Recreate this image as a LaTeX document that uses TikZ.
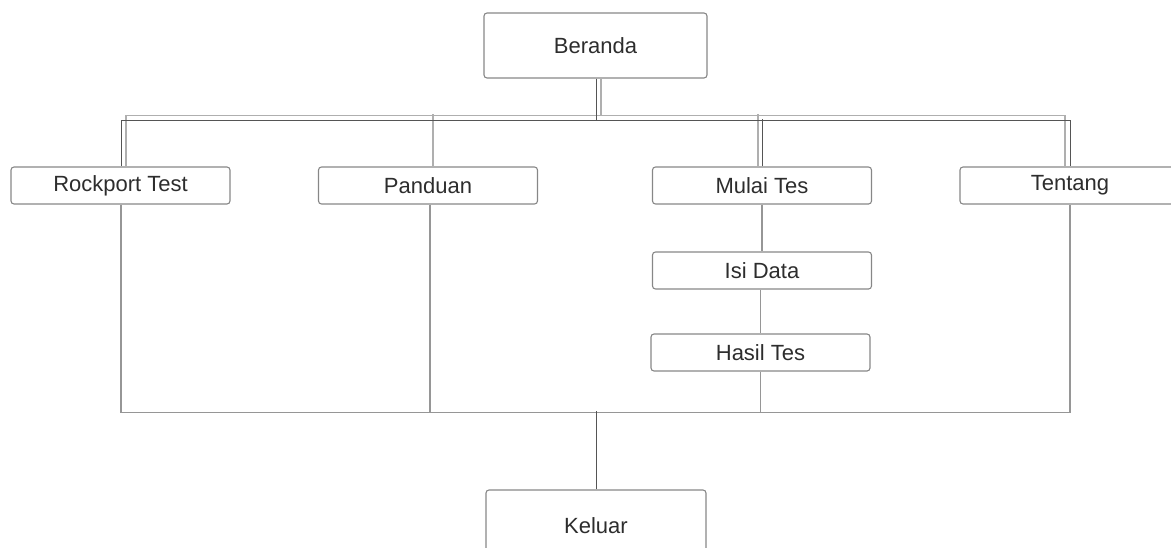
\documentclass[tikz,border=0pt]{standalone}
\usepackage{fontspec}
\setmainfont{Liberation Sans}
\definecolor{boxgray}{RGB}{135,135,135}
\definecolor{textgray}{RGB}{45,45,45}
\definecolor{lightln}{RGB}{175,175,175}
\definecolor{darkln}{RGB}{85,85,85}
\definecolor{midln}{RGB}{150,150,150}
\tikzset{
  box/.style={draw=boxgray, rounded corners=3pt, line width=1.1pt, minimum width=219pt,
    minimum height=37pt, inner sep=0pt, text=textgray, font=\fontsize{22}{26}\selectfont},
  linea/.style={draw=lightln, line width=1.1pt},
  lineb/.style={draw=darkln, line width=1pt},
  linec/.style={draw=midln, line width=1.1pt}
}
\begin{document}
\begin{tikzpicture}[x=1pt,y=-1pt]
\useasboundingbox (0,0) rectangle (1171,547);
\clip (0,0) rectangle (1171,547);
\node[box, minimum width=223pt, minimum height=65pt] (beranda) at (595.5,45.5) {Beranda};
\node[box] (rock) at (120.5,185.5) {\raisebox{2pt}{Rockport Test}};
\node[box] (panduan) at (428,185.5) {Panduan};
\node[box] (mulai) at (762,185.5) {Mulai Tes};
\node[box, minimum width=220pt] (tentang) at (1070,185.5) {\raisebox{2pt}{Tentang}};
\node[box] (isi) at (762,270.5) {Isi Data};
\node[box] (hasil) at (760.5,352.5) {Hasil Tes};
\node[box, minimum width=220pt, minimum height=90pt, text depth=0pt] (keluar) at (596,535) {\raisebox{18pt}{Keluar}};
% upper connectors, light
\draw[linea] ([xshift=5.5pt]beranda.south) -- ++(0,37) -| ([xshift=5.5pt]rock.north);
\draw[linea] ([xshift=5.5pt]beranda.south) -- ++(0,37) -| ([xshift=-5pt]tentang.north);
\draw[linea] ([xshift=5pt]panduan.north) -- ++(0,-52);
\draw[linea] ([xshift=-4pt]mulai.north) -- ++(0,-52);
% upper connectors, dark
\draw[lineb] ([xshift=0.5pt]beranda.south) -- ++(0,42) -| ([xshift=0.5pt]rock.north);
\draw[lineb] ([xshift=0.5pt]beranda.south) -- ++(0,42) -| (tentang.north);
\draw[lineb] (mulai.north) -- ++(0,-47);
% lower connectors
\draw[linec] ([xshift=0.5pt]rock.south) -- ++(0,208) -| (tentang.south);
\draw[linec] ([xshift=2pt]panduan.south) -- ++(0,208);
\draw[linec] (mulai.south) -- (isi.north);
\draw[linec] (hasil.north |- isi.south) -- (hasil.north);
\draw[linec] (hasil.south) -- ++(0,41);
\draw[lineb] (keluar.north) -- ++(0,-78);
\end{tikzpicture}
\end{document}
